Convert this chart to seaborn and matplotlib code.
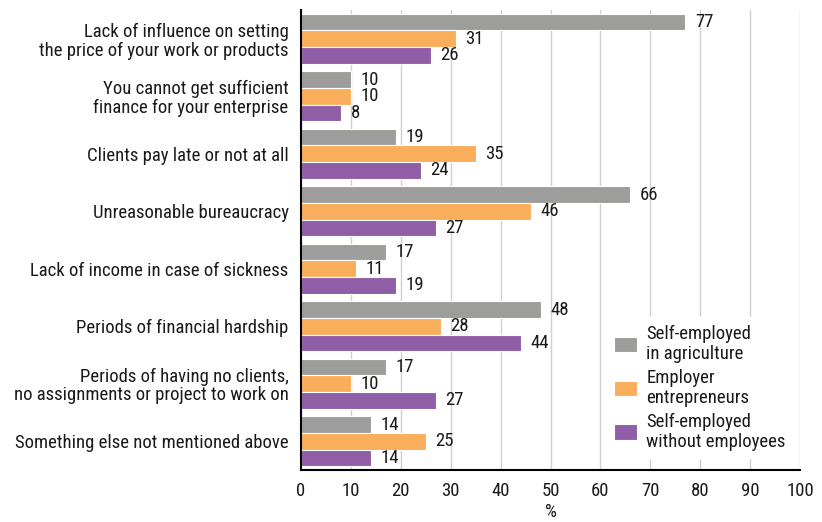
import matplotlib
matplotlib.use("Agg")
import matplotlib.pyplot as plt
import seaborn as sns
import pandas as pd
from matplotlib import font_manager as fm

categories = [
    "Lack of influence on setting\nthe price of your work or products",
    "You cannot get sufficient\nfinance for your enterprise",
    "Clients pay late or not at all",
    "Unreasonable bureaucracy",
    "Lack of income in case of sickness",
    "Periods of financial hardship",
    "Periods of having no clients,\nno assignments or project to work on",
    "Something else not mentioned above",
]
series_names = ["Self-employed\nin agriculture", "Employer\nentrepreneurs", "Self-employed\nwithout employees"]
agriculture = [77, 10, 19, 66, 17, 48, 17, 14]
employers = [31, 10, 35, 46, 11, 28, 10, 25]
no_employees = [26, 8, 24, 27, 19, 44, 27, 14]
colors = ["#9d9d9c", "#f9ae5b", "#8f5ea6"]
xticks = list(range(0, 101, 10))

rows = []
for name, vals in zip(series_names, [agriculture, employers, no_employees]):
    for c, v in zip(categories, vals):
        rows.append({"category": c, "series": name, "value": v})
df = pd.DataFrame(rows)

names = {f.name for f in fm.fontManager.ttflist}
fam = "Roboto"
for cand in ["Roboto Condensed", "Liberation Sans Narrow", "Arial Narrow", "Roboto"]:
    if cand in names:
        fam = cand
        break

sns.set_style("white")
plt.rcParams["font.family"] = [fam, "DejaVu Sans"]
FS = 13.5
TXT = "#1a1a1a"

fig = plt.figure(figsize=(8.22, 5.22), dpi=100)
ax = fig.add_axes([301 / 822, 1 - 470 / 522, 499 / 822, 460 / 522])

sns.barplot(data=df, y="category", x="value", hue="series", order=categories,
            hue_order=series_names, palette=colors, orient="h", width=0.87,
            edgecolor="white", linewidth=0.8, saturation=1, ax=ax, errorbar=None)

for cont in ax.containers:
    ax.bar_label(cont, fmt="%d", padding=7, fontsize=FS, color=TXT)

ax.set_xlim(0, 100)
ax.set_xticks(xticks)
ax.set_xticklabels([str(t) for t in xticks], fontsize=FS, color=TXT)
ax.tick_params(axis="x", length=0, pad=9)
ax.tick_params(axis="y", length=0, pad=9)
for lab in ax.get_yticklabels():
    lab.set_fontsize(FS)
    lab.set_color(TXT)
    lab.set_multialignment("right")
    lab.set_linespacing(1.05)
ax.set_xlabel("%", fontsize=FS, color=TXT, labelpad=1.5)
ax.set_ylabel("")
ax.xaxis.grid(True, color="#d0d0d0", linewidth=1)
ax.set_axisbelow(True)
for s in ["top", "right"]:
    ax.spines[s].set_visible(False)
for s in ["left", "bottom"]:
    ax.spines[s].set_color("black")
    ax.spines[s].set_linewidth(1.5)

leg = ax.legend(loc="upper right", bbox_to_anchor=(1.005, 0.352), fontsize=FS,
                frameon=True, framealpha=1, edgecolor="white", fancybox=False,
                handlelength=1.2, handleheight=0.9, handletextpad=0.5,
                labelspacing=0.3, borderpad=0.4)
for t in leg.get_texts():
    t.set_color(TXT)
    t.set_linespacing(1.15)

fig.savefig("out.png", dpi=100)
